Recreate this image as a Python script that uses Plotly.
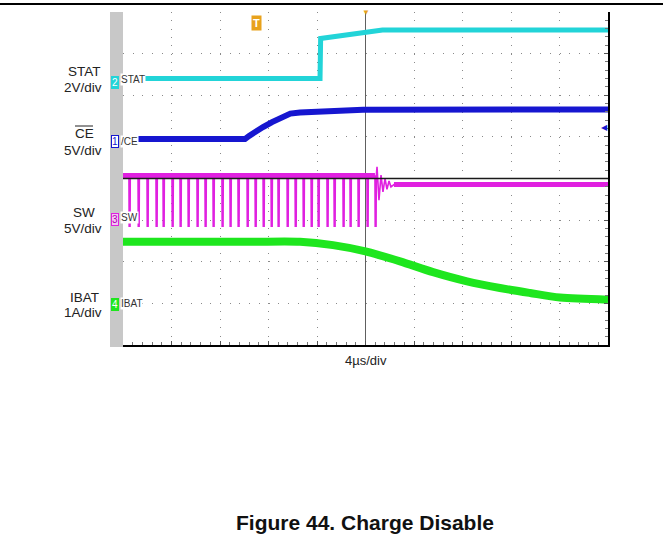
import plotly.graph_objects as go

# ---------------- data ----------------
# time axis: 4 us/div, 10 div, trigger at centre (t = 0)
# STAT channel (V), 2 V/div
stat_t = [-20.0, -3.75, -3.70, -2.70, -1.30, 0.00, 1.40, 20.0]
stat_v = [0.21, 0.21, 2.13, 2.21, 2.33, 2.45, 2.53, 2.53]

# CE channel (V), 5 V/div
ce_t = [-20.0, -9.94, -9.60, -9.20, -8.45, -7.71, -7.05, -6.60, -6.20, -5.40, -4.33, -2.00, -0.21, 20.0]
ce_v = [0.24, 0.24, 0.62, 1.05, 1.68, 2.28, 2.76, 3.10, 3.30, 3.42, 3.49, 3.62, 3.76, 3.79]

# SW channel (V), 5 V/div : switching pulses then ringing then settled level
sw_pulse_t = [-19.51, -18.76, -18.02, -17.28, -16.70, -15.96, -15.30, -14.64,
              -13.90, -13.24, -12.58, -11.84, -11.18, -10.52, -9.77, -9.11,
              -8.45, -7.79, -7.22, -6.47, -5.81, -5.15, -4.49, -3.92,
              -3.18, -2.60, -1.86, -1.28, -0.62, 0.12, 0.78]
sw_high = 5.3
sw_low = -0.72
sw_ring_t = [0.95, 1.11, 1.28, 1.44, 1.61, 1.77, 1.94, 2.10, 2.35]
sw_ring_v = [6.4, 2.4, 5.4, 3.4, 5.0, 3.7, 4.7, 4.0, 4.27]
sw_settled = 4.27

# IBAT channel (A), 1 A/div
ibat_t = [-20.0, -9.53, -5.40, -2.68, 0.0, 2.85, 5.57, 8.37, 11.09, 13.57, 16.04, 20.0]
ibat_v = [1.48, 1.48, 1.48, 1.40, 1.25, 1.01, 0.75, 0.53, 0.37, 0.25, 0.14, 0.09]

channel_names = ["STAT", "CE", "SW", "IBAT"]
channel_scales = ["2V/div", "5V/div", "5V/div", "1A/div"]
time_scale = "4\u00b5s/div"
title_text = "Figure 44. Charge Disable"

# ---------------- display settings (style, not data) ----------------
volts_per_div = {"STAT": 2.0, "CE": 5.0, "SW": 5.0, "IBAT": 1.0}
ground_div = {"STAT": 2.3, "CE": 0.9, "SW": -1.0, "IBAT": -3.0}
colors = {"STAT": "#22d4d8", "CE": "#1616d0", "SW": "#e020e0", "IBAT": "#1ee61e"}
pulse_fall = 0.02
pulse_width = 0.07


def to_div(name, vals):
    return [ground_div[name] + v / volts_per_div[name] for v in vals]


# build SW polyline from the read pulse times
sw_t, sw_v = [-20.0], [sw_high]
for t in sw_pulse_t:
    sw_t += [t, t + pulse_fall, t + pulse_fall + pulse_width, t + 2 * pulse_fall + pulse_width]
    sw_v += [sw_high, sw_low, sw_low, sw_high]
sw_t += sw_ring_t + [20.0]
sw_v += sw_ring_v + [sw_settled]

fig = go.Figure()


def add_line(x, y, color, width, shape="linear"):
    fig.add_trace(go.Scatter(x=x, y=y, mode="lines",
                             line=dict(color=color, width=width, shape=shape, smoothing=0.8),
                             hoverinfo="skip", showlegend=False))


add_line(stat_t, to_div("STAT", stat_v), colors["STAT"], 5)
add_line(ce_t, to_div("CE", ce_v), colors["CE"], 6)
# SW: thick band for the top level, thin line for pulses
add_line([-20.0, sw_pulse_t[-1]], to_div("SW", [sw_high, sw_high]), colors["SW"], 6)
add_line(sw_t, to_div("SW", sw_v), colors["SW"], 1.6)
add_line([sw_ring_t[-1], 20.0], to_div("SW", [sw_settled, sw_settled]), colors["SW"], 5)
add_line(ibat_t, to_div("IBAT", ibat_v), colors["IBAT"], 8, "spline")

W, H = 663, 550
L, R, T, B = 123, 55, 12, 205
pw, ph = W - L - R, H - T - B


def px(xp):
    return (xp - L) / pw


def py(yp):
    return 1 - (yp - T) / ph


font = "Liberation Sans, Arial, sans-serif"
ann = []
# left channel labels
label_y = [(71, 87.5), (133.5, 150), (212, 228), (297, 312)]
for name, sc, (y1, y2) in zip(channel_names, channel_scales, label_y):
    ann.append(dict(x=px(84), y=py(y1), xref="paper", yref="paper", text=name, showarrow=False,
                    font=dict(family=font, size=13.5, color="#222"), xanchor="center", yanchor="middle"))
    ann.append(dict(x=px(83), y=py(y2), xref="paper", yref="paper", text=sc, showarrow=False,
                    font=dict(family=font, size=13.5, color="#222"), xanchor="center", yanchor="middle"))

# channel markers on the left edge
markers = [("2", 82.5, colors["STAT"], "white", colors["STAT"], "STAT", 79),
           ("1", 141, "white", colors["CE"], colors["CE"], "/CE", 141),
           ("3", 219, "#f4c4f4", "#b000b0", colors["SW"], "SW", 217),
           ("4", 304, colors["IBAT"], "white", colors["IBAT"], "IBAT", 303)]
for num, yy, bg, fc, bc, nm, ny in markers:
    ann.append(dict(x=px(114.5), y=py(yy), xref="paper", yref="paper", text=num, showarrow=False,
                    font=dict(family=font, size=10, color=fc), bgcolor=bg, bordercolor=bc,
                    borderwidth=1, borderpad=0, xanchor="center", yanchor="middle"))
    ann.append(dict(x=px(119.5), y=py(ny), xref="paper", yref="paper", text=nm, showarrow=False,
                    font=dict(family="Liberation Sans Narrow, Liberation Sans, Arial", size=10, color="#333"),
                    bgcolor="white", borderpad=0, xanchor="left", yanchor="middle"))

# trigger markers
ann.append(dict(x=px(256), y=py(22.5), xref="paper", yref="paper", text="<b>T</b>", showarrow=False,
                font=dict(family=font, size=11, color="white"), bgcolor="#e8a21c", borderpad=1,
                xanchor="center", yanchor="middle"))
ann.append(dict(x=0.5, y=1.0, xref="paper", yref="paper", text="\u25bc", showarrow=False,
                font=dict(family=font, size=8, color="#e8a21c"), xanchor="center", yanchor="middle"))
ann.append(dict(x=px(604), y=py(128), xref="paper", yref="paper", text="\u25c0", showarrow=False,
                font=dict(family=font, size=8, color=colors["CE"]), xanchor="center", yanchor="middle"))
# axis scale and caption
ann.append(dict(x=0.5, y=py(360), xref="paper", yref="paper", text=time_scale, showarrow=False,
                font=dict(family=font, size=13, color="#222"), xanchor="center", yanchor="middle"))
ann.append(dict(x=px(365), y=py(522), xref="paper", yref="paper", text="<b>" + title_text + "</b>",
                showarrow=False, font=dict(family=font, size=21, color="#111"),
                xanchor="center", yanchor="middle"))

shapes = [
    # page top rule
    dict(type="line", xref="paper", yref="paper", x0=px(0), x1=px(663), y0=py(4), y1=py(4),
         line=dict(color="black", width=2)),
    # grey strip left of screen
    dict(type="rect", xref="paper", yref="paper", x0=px(110), x1=0, y0=py(347), y1=1,
         fillcolor="#c8c8c8", line=dict(width=0), layer="below"),
    # CE overline
    dict(type="line", xref="paper", yref="paper", x0=px(75), x1=px(93), y0=py(126), y1=py(126),
         line=dict(color="#222", width=1)),
    # centre horizontal reference line
    dict(type="line", xref="paper", yref="paper", x0=0, x1=1, y0=0.5, y1=0.5,
         line=dict(color="#1a1a1a", width=1.5), layer="above"),
]

fig.update_layout(
    width=W, height=H, margin=dict(l=L, r=R, t=T, b=B),
    paper_bgcolor="white", plot_bgcolor="white",
    annotations=ann, shapes=shapes,
    xaxis=dict(range=[-20, 20], dtick=4, showticklabels=False, showgrid=True, gridcolor="#8a8a8a",
               griddash="1px,7.3px", gridwidth=1, zeroline=True, zerolinecolor="#606060", zerolinewidth=1,
               showline=True, linecolor="black", linewidth=2, mirror=False,
               ticks="inside", ticklen=4, tickcolor="#555",
               minor=dict(dtick=0.8, ticks="inside", ticklen=3, tickcolor="#777", showgrid=False),
               fixedrange=True),
    yaxis=dict(range=[-4, 4], dtick=1, showticklabels=False, showgrid=True, gridcolor="#8a8a8a",
               griddash="1px,8.7px", gridwidth=1, zeroline=False,
               showline=True, linecolor="black", linewidth=2, side="right", mirror=False,
               ticks="inside", ticklen=4, tickcolor="#555",
               minor=dict(dtick=0.2, ticks="inside", ticklen=3, tickcolor="#777", showgrid=False),
               fixedrange=True),
)

fig.write_html("out.html", config={"displayModeBar": False},
               post_script="document.body.style.margin='0px';")
